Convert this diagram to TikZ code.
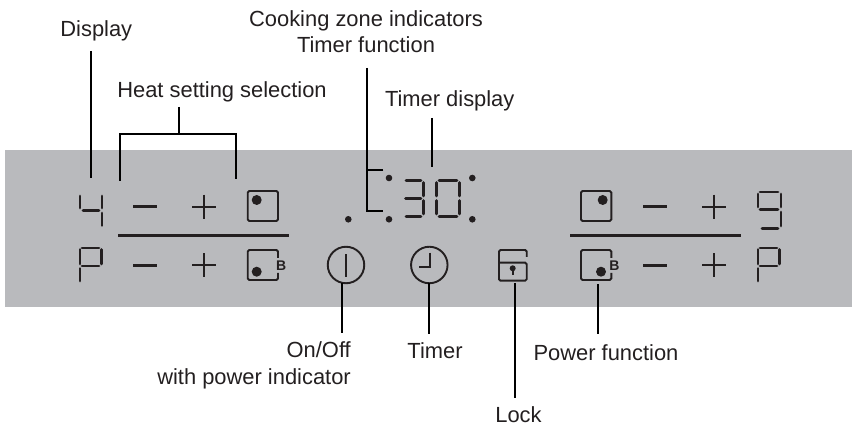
\documentclass[tikz,border=0pt]{standalone}
\usepackage{fontspec}
\setmainfont{Liberation Sans}
\definecolor{panel}{HTML}{B9BABD}
\definecolor{ink}{HTML}{231F20}
\newcommand{\glyphsize}{\fontsize{21.9}{26}\selectfont}
\tikzset{
  x=1pt,y=-1pt,
  lbl/.style={inner sep=0pt,align=center,text=ink,font=\glyphsize},
  leader/.style={draw=black,line width=1.9pt},
  seg/.style={draw=ink,line width=2.7pt,line cap=round},
  icon/.style={draw=ink,line width=1.9pt},
  sym/.style={draw=ink,line width=1.9pt},
  rulebar/.style={draw=ink,line width=2.6pt},
  spot/.style={fill=ink,draw=none},
}
% minus and plus, centred on (#1,#2)
\newcommand{\minussym}[2]{\draw[ink,line width=2.4pt] (#1-12,#2) -- (#1+12,#2);}
\newcommand{\plussym}[2]{\draw[sym] (#1-12,#2) -- (#1+12,#2) (#1,#2-12) -- (#1,#2+12);}
% letter P of the display, left x, top y
\newcommand{\dispP}[2]{\begin{scope}[shift={(#1,#2)}]
  \draw[seg] (2,0) -- (19,0);
  \draw[seg] (0,1.5) -- (0,16);
  \draw[seg] (21.5,1.5) -- (21.5,16);
  \draw[seg] (2,18) -- (19,18);
  \draw[seg] (0,20.5) -- (0,33);
\end{scope}}
% box with dot
\newcommand{\dotbox}[4]{\draw[icon,rounded corners=1.5pt] (#1,#2) rectangle (#1+30.3,#2+30);
  \fill[spot] (#3,#4) circle (5);}
% box with B, gap in right side
\newcommand{\bbox}[4]{\draw[icon,rounded corners=1.5pt] (#1+30.3,#2+8) -- (#1+30.3,#2) -- (#1,#2) -- (#1,#2+30) -- (#1+30.3,#2+30) -- (#1+30.3,#2+23);
  \fill[spot] (#3,#4) circle (5);
  \node[inner sep=0pt,text=ink,font=\fontsize{14}{14}\selectfont\bfseries] at (#1+33.5,#2+15.7) (b#1) {B};}
\begin{document}
\begin{tikzpicture}
\useasboundingbox (0,0) rectangle (852,427);
\fill[panel] (5,150) rectangle (852,306.7);

% display "4"
\draw[seg] (80,196) -- (80,208);
\draw[seg] (83,210.5) -- (99,210.5);
\draw[seg] (102,196) -- (102,208);
\draw[seg] (102,213) -- (102,225.5);
% P left
\dispP{80}{248}
% keys left
\minussym{145}{206.7}
\plussym{204}{206.7}
\dotbox{247.7}{191}{256.7}{200}
\draw[rulebar] (118,235.4) -- (289,235.4);
\minussym{145}{265.4}
\plussym{204}{265.4}
\bbox{247.7}{250}{256.7}{271.7}

% centre indicators
\foreach \px/\py in {389/178,389/219.3,472.3/178,472.3/219.3,348.3/219.3}
  \fill[spot] (\px,\py) circle (3.3);
% digit 3
\draw[seg] (406,180.5) -- (421,180.5);
\draw[seg] (405.5,198.3) -- (421,198.3);
\draw[seg] (406,216.2) -- (421,216.2);
\draw[seg] (423.5,182.5) -- (423.5,196);
\draw[seg] (423.5,200.5) -- (423.5,214);
% digit 0
\draw[seg] (439,180.5) -- (457,180.5);
\draw[seg] (439,216.2) -- (457,216.2);
\draw[seg] (436.5,182.5) -- (436.5,196);
\draw[seg] (436.5,200.5) -- (436.5,214);
\draw[seg] (459.5,182.5) -- (459.5,196);
\draw[seg] (459.5,200.5) -- (459.5,214);

% on/off
\node[draw=ink,line width=1.9pt,circle,minimum size=36.5pt,inner sep=0pt] (onoff) at (346,265) {};
\draw[sym] (346,254.3) -- (346,276.7);
% timer
\node[draw=ink,line width=1.9pt,circle,minimum size=36.5pt,inner sep=0pt] (timer) at (429.3,265) {};
\draw[sym] (430,252.7) -- (430,266.7) -- (419.3,266.7);
% lock
\draw[icon,rounded corners=1.5pt] (526.7,257) -- (526.7,250) -- (499,250) -- (499,280.7) -- (526.7,280.7) -- (526.7,262.7) -- (499,262.7);
\fill[spot] (512.7,268.3) circle (3);
\draw[ink,line width=1.9pt] (512.7,268.3) -- (512.7,275);

% keys right
\dotbox{581}{191}{602.7}{200}
\minussym{655}{206.7}
\plussym{714}{206.7}
\draw[rulebar] (570,235.4) -- (741,235.4);
\bbox{581}{250}{601}{271.7}
\minussym{655}{265.4}
\plussym{714}{265.4}
% display "9"
\draw[seg] (760,192) -- (778,192);
\draw[seg] (758,194) -- (758,207);
\draw[seg] (781,194) -- (781,207);
\draw[seg] (760,209.5) -- (778,209.5);
\draw[seg] (781,212) -- (781,226);
\draw[seg] (762,228.5) -- (778,228.5);
\dispP{758}{248}

% labels
\node[lbl] (ldisplay) at (96.3,31) {Display};
\node[lbl] (lheat) at (222,92) {Heat setting selection};
\node[lbl] (lzone) at (366,32) {Cooking zone indicators\\Timer function};
\node[lbl] (ltd) at (449.7,101) {Timer display};
\node[lbl,align=right,anchor=east,font=\fontsize{21.9}{27.5}\selectfont] (lonoff) at (351,365.5) {On/Off\\with power indicator};
\node[lbl] (ltimer) at (435,351) {Timer};
\node[lbl] (llock) at (518.5,415) {Lock};
\node[lbl] (lpower) at (606,353) {Power function};

% leaders
\coordinate (dA) at (91,51);      \coordinate (dB) at (91,178.3);
\coordinate (hT) at (179,107);    \coordinate (hM) at (179,134);
\coordinate (hL) at (120,180.7);  \coordinate (hR) at (236,179.3);
\coordinate (zT) at (366.7,68);   \coordinate (zA) at (383.3,170);
\coordinate (zB) at (383.3,211);
\coordinate (tA) at (431.7,118);  \coordinate (tB) at (431.7,166.7);
\coordinate (oA) at (342,283.3);  \coordinate (oB) at (342,333);
\coordinate (iA) at (429,283.3);  \coordinate (iB) at (429,333.7);
\coordinate (kA) at (515,283);    \coordinate (kB) at (515,397.7);
\coordinate (pA) at (598,284.3);  \coordinate (pB) at (598,334.3);
\draw[leader] (dA) -- (dB);
\draw[leader] (hT) -- (hM);
\draw[leader] (hL) |- (hM) -| (hR);
\draw[leader] (zA) -- (zT |- zA);
\draw[leader] (zT) |- (zB);
\draw[leader] (tA) -- (tB);
\draw[leader] (oA) -- (oB);
\draw[leader] (iA) -- (iB);
\draw[leader] (kA) -- (kB);
\draw[leader] (pA) -- (pB);
\end{tikzpicture}
\end{document}
